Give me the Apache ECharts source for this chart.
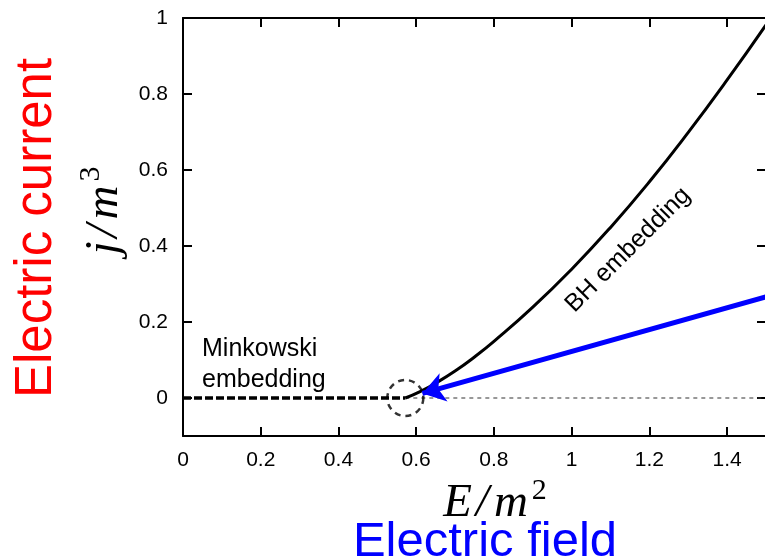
<!DOCTYPE html>
<html>
<head>
<meta charset="utf-8">
<script src="https://cdn.jsdelivr.net/npm/echarts@6/dist/echarts.min.js"></script>
<style>html,body{margin:0;padding:0;background:#fff}#c{width:765px;height:560px}</style>
</head>
<body>
<div id="c"></div>
<script>
// ---- data ----
const xTicks = [0, 0.2, 0.4, 0.6, 0.8, 1, 1.2, 1.4];
const yTicks = [0, 0.2, 0.4, 0.6, 0.8, 1];
const minkowskiX = [0, 0.572];
const minkowskiY = [0, 0];
const bhX = [0.572, 0.61, 0.65, 0.7, 0.75, 0.8, 0.9, 1.0, 1.1, 1.2, 1.3, 1.4, 1.5];
const bhY = [0, 0.017, 0.039, 0.071, 0.108, 0.149, 0.239, 0.339, 0.449, 0.569, 0.699, 0.837, 0.982];
const zeroLineX = [0.572, 1.5];
const zeroLineY = [0, 0];
const criticalPoint = [0.572, 0];
const arrowFrom = [1.5, 0.266];
const arrowTo = [0.616, 0.012];

const zip = (xs, ys) => xs.map((x, i) => [x, ys[i]]);

const chart = echarts.init(document.getElementById('c'), null, {renderer: 'canvas'});
const axisFont = 'Liberation Sans, Arial, sans-serif';
const mathFont = 'Liberation Serif, Times New Roman, serif';

function frameAxis(extra) {
  return Object.assign({
    type: 'value',
    axisLine: {show: true, onZero: false, lineStyle: {color: '#000', width: 2}},
    axisTick: {show: true, inside: true, length: 9, lineStyle: {color: '#000', width: 2}},
    splitLine: {show: false},
    axisLabel: {show: false}
  }, extra);
}

const mathRich = {
  i: {fontFamily: mathFont, fontStyle: 'italic', fontSize: 47, lineHeight: 56, color: '#000', padding: [0, 1, 0, 1]},
  p: {fontFamily: mathFont, fontStyle: 'italic', fontSize: 47, lineHeight: 56, color: '#000', padding: [0, 4, 0, 3]},
  s: {fontFamily: mathFont, fontSize: 30, lineHeight: 30, color: '#000', verticalAlign: 'top', padding: [0, 0, 0, 3]}
};

const option = {
  backgroundColor: '#fff',
  animation: false,
  grid: {left: 183, top: 18, width: 583, height: 418, outerBoundsMode: 'none', containLabel: false},
  xAxis: [
    frameAxis({
      position: 'bottom', min: 0, max: 1.5,
      axisTick: {show: true, inside: true, length: 9, customValues: xTicks, lineStyle: {color: '#000', width: 2}},
      axisLabel: {show: true, customValues: xTicks, margin: 14, fontSize: 21, color: '#000', fontFamily: axisFont,
                  formatter: v => String(v)},
      name: '{i|E}{p|/}{i|m}{s|2}',
      nameLocation: 'middle',
      nameGap: 34,
      nameTextStyle: {padding: [0, 0, 0, 40], rich: mathRich}
    }),
    frameAxis({
      position: 'top', min: 0, max: 1.5,
      axisTick: {show: true, inside: true, length: 9, customValues: xTicks, lineStyle: {color: '#000', width: 2}}
    })
  ],
  yAxis: [
    frameAxis({
      position: 'left', min: -0.1, max: 1,
      axisTick: {show: true, inside: true, length: 9, customValues: yTicks, lineStyle: {color: '#000', width: 2}},
      axisLabel: {show: true, customValues: yTicks, margin: 15, fontSize: 21, color: '#000', fontFamily: axisFont,
                  formatter: v => String(v)},
      name: '{i|j}{p|/}{i|m}{s|3}',
      nameLocation: 'middle',
      nameRotate: 90,
      nameGap: 50,
      nameTextStyle: {padding: [0, 0, 0, 32], rich: mathRich}
    }),
    frameAxis({
      position: 'right', min: -0.1, max: 1,
      axisTick: {show: true, inside: true, length: 9, customValues: yTicks, lineStyle: {color: '#000', width: 2}}
    })
  ],
  series: [
    {
      name: 'zero', type: 'line', data: zip(zeroLineX, zeroLineY), symbol: 'none', silent: true,
      lineStyle: {color: '#333', width: 1, type: [4, 4]}, z: 1
    },
    {
      name: 'Minkowski', type: 'line', data: zip(minkowskiX, minkowskiY), symbol: 'none',
      lineStyle: {color: '#000', width: 3.5, type: [8, 3]}, z: 3
    },
    {
      name: 'BH', type: 'line', data: zip(bhX, bhY), symbol: 'none', smooth: true,
      lineStyle: {color: '#000', width: 3}, z: 3
    },
    {
      name: 'critical', type: 'scatter', data: [criticalPoint], symbol: 'circle', symbolSize: 36,
      itemStyle: {color: 'rgba(0,0,0,0)', borderColor: '#000', borderWidth: 2.5, borderType: [6, 5]}, z: 2
    },
    {
      name: 'arrow', type: 'lines', coordinateSystem: 'cartesian2d', polyline: false,
      data: [{coords: [arrowFrom, arrowTo]}],
      symbol: ['none', 'arrow'], symbolSize: 22,
      lineStyle: {color: '#0000ff', width: 5, opacity: 1, curveness: 0}, z: 4
    }
  ],
  graphic: [
    {type: 'text', x: 202, y: 334, style: {text: 'Minkowski\nembedding', fontSize: 25, lineHeight: 31,
      fontFamily: axisFont, fill: '#000', align: 'left', verticalAlign: 'top'}},
    {type: 'text', x: 628, y: 250, rotation: Math.PI / 4, style: {text: 'BH embedding', fontSize: 25,
      fontFamily: axisFont, fill: '#000', align: 'center', verticalAlign: 'middle'}},
    {type: 'text', x: 37, y: 228, rotation: Math.PI / 2, style: {text: 'Electric current', fontSize: 51,
      fontFamily: axisFont, fill: '#ff0000', align: 'center', verticalAlign: 'middle'}},
    {type: 'text', x: 485, y: 542, style: {text: 'Electric field', fontSize: 49,
      fontFamily: axisFont, fill: '#0000ff', align: 'center', verticalAlign: 'middle'}}
  ]
};
chart.setOption(option);
</script>
</body>
</html>
